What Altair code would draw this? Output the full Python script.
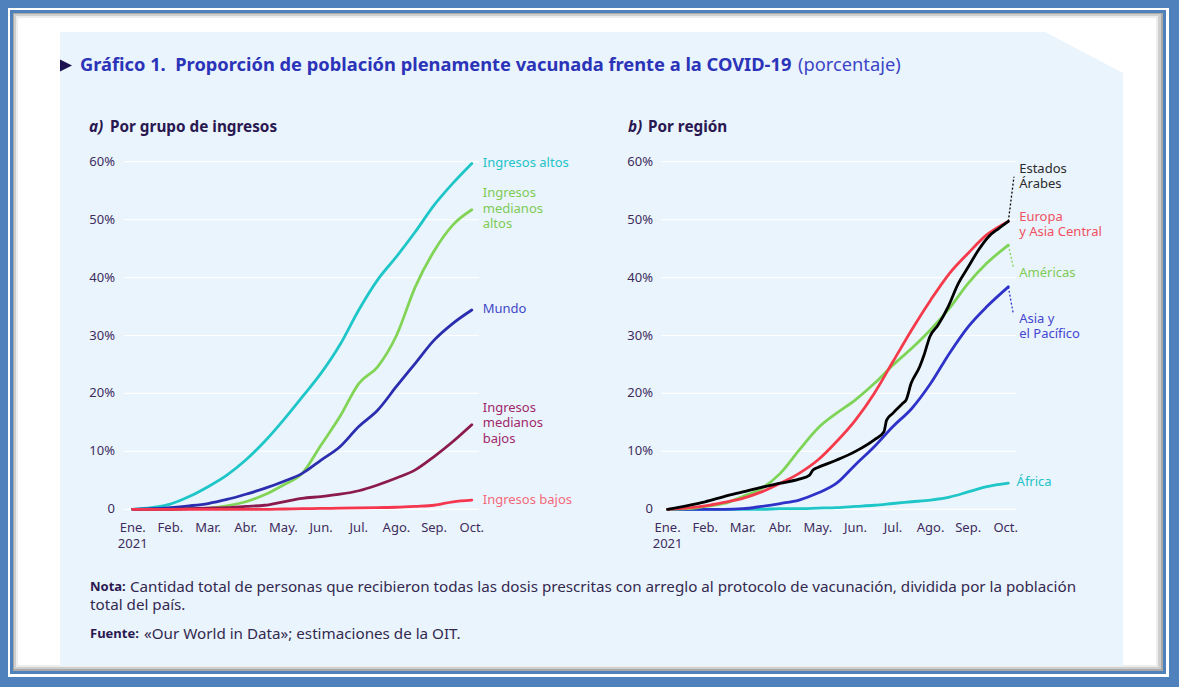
import altair as alt
import pandas as pd

W, H = 1179, 687
FONT = "Noto Sans"

# ---------------- data ----------------
months = [0, 0.5, 1, 1.5, 2, 2.5, 3, 3.5, 4, 4.5, 5, 5.5, 6, 6.5, 7, 7.5, 8, 8.5, 9]
months_b = [0, 0.5, 1, 1.5, 2, 2.5, 3, 3.5, 4, 4.5, 5, 5.5, 6, 6.5, 7, 7.5, 8, 8.5, 9.07]

# a) Por grupo de ingresos (%)
ingresos_altos = [0, 0.3, 0.9, 2.2, 3.9, 5.9, 8.5, 11.7, 15.4, 19.4, 23.5, 28.4, 34.4, 39.6, 43.6, 47.9, 52.5, 56.3, 59.7]
ingresos_med_altos = [0, 0, 0.05, 0.1, 0.2, 0.6, 1.3, 2.5, 4.2, 6.2, 11.1, 16.0, 21.7, 24.6, 30.0, 38.4, 44.6, 49.1, 51.7]
mundo = [0, 0.1, 0.3, 0.6, 1.0, 1.7, 2.6, 3.6, 4.8, 6.2, 8.5, 10.8, 14.3, 17.1, 21.2, 25.2, 29.2, 32.1, 34.4]
ingresos_med_bajos = [0, 0, 0, 0.1, 0.2, 0.3, 0.5, 0.7, 1.3, 1.9, 2.2, 2.6, 3.2, 4.2, 5.4, 6.8, 9.1, 11.7, 14.6]
ingresos_bajos = [0, 0, 0, 0, 0, 0, 0, 0, 0.05, 0.1, 0.15, 0.2, 0.25, 0.3, 0.35, 0.5, 0.7, 1.3, 1.6]

# b) Por región (%)
europa = [0, 0.2, 0.6, 1.2, 1.9, 3.0, 4.5, 6.2, 8.5, 11.7, 15.4, 20.0, 25.5, 31.0, 36.1, 40.7, 44.2, 47.4, 49.7]
americas = [0, 0.1, 0.5, 1.0, 2.2, 3.6, 6.2, 10.2, 14.0, 16.6, 18.9, 21.7, 24.9, 27.8, 31.0, 34.7, 39.0, 42.5, 45.6]
asia_pacifico = [0, 0, 0, 0, 0.1, 0.5, 1.0, 1.6, 2.8, 4.5, 7.7, 10.8, 14.3, 17.4, 21.7, 26.9, 31.5, 35.0, 38.4]
africa = [0, 0, 0, 0, 0, 0, 0.1, 0.1, 0.2, 0.3, 0.5, 0.7, 1.0, 1.3, 1.6, 2.1, 3.0, 3.9, 4.5]
arabes_months = [0, 0.5, 1, 1.5, 2, 2.5, 3, 3.5, 3.78, 3.87, 4, 4.5, 5, 5.5, 5.76, 5.83, 6.0, 6.26, 6.35, 6.48,
                 6.71, 6.84, 6.98, 7.2, 7.47, 7.74, 8.01, 8.28, 8.55, 8.82, 9.07]
arabes = [0, 0.6, 1.3, 2.2, 3.0, 3.8, 4.5, 5.2, 5.9, 6.8, 7.2, 8.5, 10.0, 12.0, 13.4, 15.4, 16.6, 18.3, 18.9, 21.7,
          24.6, 26.9, 29.8, 31.8, 35.0, 39.0, 41.9, 44.8, 47.1, 48.5, 49.7]

month_labels = ["Ene.", "Feb.", "Mar.", "Abr.", "May.", "Jun.", "Jul.", "Ago.", "Sep.", "Oct."]
y_ticks = [0, 10, 20, 30, 40, 50, 60]
y_tick_labels = ["0", "10%", "20%", "30%", "40%", "50%", "60%"]

# ---------------- styles ----------------
TICK_COLOR = "#3D2C5C"
PANEL = "#EAF4FD"
FRAME_BLUE = "#4F81BD"

series_a = [
    ("Ingresos altos", months, ingresos_altos, "#1FC6C8"),
    ("Ingresos medianos altos", months, ingresos_med_altos, "#82D457"),
    ("Mundo", months, mundo, "#2A2DAE"),
    ("Ingresos medianos bajos", months, ingresos_med_bajos, "#8B1A4F"),
    ("Ingresos bajos", months, ingresos_bajos, "#F5364F"),
]
series_b = [
    ("África", months_b, africa, "#1FC6C8"),
    ("Asia y el Pacífico", months_b, asia_pacifico, "#2E32C8"),
    ("Américas", months_b, americas, "#7ED457"),
    ("Europa y Asia Central", months_b, europa, "#F53B4B"),
    ("Estados Árabes", arabes_months, arabes, "#000000"),
]

# end labels (month position, value position, text, colour)
labels_a = [
    (9.29, 59.83, "Ingresos altos", "#22C3C8"),
    (9.29, 54.65, "Ingresos", "#7DCB55"),
    (9.29, 51.89, "medianos", "#7DCB55"),
    (9.29, 49.25, "altos", "#7DCB55"),
    (9.29, 34.52, "Mundo", "#3F46C8"),
    (9.29, 17.54, "Ingresos", "#A1286A"),
    (9.29, 14.85, "medianos", "#A1286A"),
    (9.29, 12.19, "bajos", "#A1286A"),
    (9.29, 1.61, "Ingresos bajos", "#F56A7A"),
]
labels_b = [
    (9.36, 58.74, "Estados", "#2B2B2B"),
    (9.36, 56.10, "Árabes", "#2B2B2B"),
    (9.36, 50.41, "Europa", "#F0505F"),
    (9.36, 47.82, "y Asia Central", "#F0505F"),
    (9.36, 40.79, "Américas", "#7DCB55"),
    (9.36, 32.80, "Asia y", "#4347D0"),
    (9.36, 30.21, "el Pacífico", "#4347D0"),
    (9.29, 4.66, "África", "#22C3C8"),
]
leaders_b = [
    ("arabes", [9.07, 9.22], [49.7, 57.4], "#000000"),
    ("americas", [9.07, 9.2], [45.6, 41.9], "#7ED457"),
    ("asia", [9.07, 9.2], [38.4, 33.8], "#2E32C8"),
]

one = pd.DataFrame({"k": [0]})


def rect(x, x2, y, y2, color):
    return alt.Chart(one).mark_rect(color=color).encode(
        x=alt.value(x), x2=alt.value(x2), y=alt.value(y), y2=alt.value(y2))


def txt(x, y, s, size, color, weight="normal", style="normal", align="left"):
    return alt.Chart(one).mark_text(
        text=s, font=FONT, fontSize=size, color=color, fontWeight=weight,
        fontStyle=style, align=align, baseline="middle").encode(
        x=alt.value(x), y=alt.value(y))


def panel(series, labels, leaders, x_range, grid_x, tick_right):
    xs = alt.Scale(domain=[0, 9], range=x_range, nice=False, zero=False)
    ys = alt.Scale(domain=[0, 60], range=[509.3, 161.7], nice=False, zero=False)
    ticks = pd.DataFrame({"v": y_ticks, "lab": y_tick_labels})
    grid = alt.Chart(ticks).mark_rule(color="#FFFFFF", strokeWidth=1.2).encode(
        y=alt.Y("v:Q", scale=ys, axis=None),
        x=alt.value(grid_x[0]), x2=alt.value(grid_x[1]))
    ylab = alt.Chart(ticks).mark_text(
        align="right", baseline="middle", font=FONT, fontSize=13, color=TICK_COLOR).encode(
        y=alt.Y("v:Q", scale=ys, axis=None), x=alt.value(tick_right), text="lab:N")
    mdf = pd.DataFrame({"m": list(range(10)), "lab": month_labels})
    xlab = alt.Chart(mdf).mark_text(
        align="center", baseline="middle", font=FONT, fontSize=13, color=TICK_COLOR).encode(
        x=alt.X("m:Q", scale=xs, axis=None), y=alt.value(528), text="lab:N")
    year = alt.Chart(pd.DataFrame({"m": [0], "lab": ["2021"]})).mark_text(
        align="center", baseline="middle", font=FONT, fontSize=13, color=TICK_COLOR).encode(
        x=alt.X("m:Q", scale=xs, axis=None), y=alt.value(543.5), text="lab:N")
    layers = [grid, ylab, xlab, year]
    for name, mm, vals, col in series:
        df = pd.DataFrame({"m": mm, "v": vals})
        layers.append(alt.Chart(df).mark_line(
            color=col, strokeWidth=2.8, strokeCap="round", strokeJoin="round",
            interpolate="monotone").encode(
            x=alt.X("m:Q", scale=xs, axis=None), y=alt.Y("v:Q", scale=ys, axis=None)))
    for name, mm, vals, col in leaders:
        df = pd.DataFrame({"m": mm, "v": vals})
        layers.append(alt.Chart(df).mark_line(
            color=col, strokeWidth=1.3, strokeDash=[2, 2]).encode(
            x=alt.X("m:Q", scale=xs, axis=None), y=alt.Y("v:Q", scale=ys, axis=None)))
    ldf = pd.DataFrame(labels, columns=["m", "v", "t", "c"])
    layers.append(alt.Chart(ldf).mark_text(
        align="left", baseline="middle", font=FONT, fontSize=13).encode(
        x=alt.X("m:Q", scale=xs, axis=None), y=alt.Y("v:Q", scale=ys, axis=None),
        text="t:N", color=alt.Color("c:N", scale=None)))
    return alt.layer(*layers)


# frame and background panel
frame = [
    rect(8, 1169, 8, 677, "#FFFFFF"),
    rect(10, 1166, 10, 674, FRAME_BLUE),
    rect(13, 1163, 13, 671, "#A8A8A8"),
    rect(14, 1161, 14, 669, "#CFCFCF"),
    rect(16, 1158, 16, 667, "#EDEDED"),
    rect(18, 1156, 18, 665, "#FFFFFF"),
    rect(60, 1123, 32, 666, PANEL),
    alt.Chart(one).mark_point(
        shape="M -1 -0.526 L 1 -0.526 L 1 0.526 Z", size=6084, filled=True,
        color="#FFFFFF", opacity=1, strokeWidth=0).encode(x=alt.value(1084), y=alt.value(52.5)),
]

texts = [
    alt.Chart(one).mark_point(
        shape="M -1 -1 L 1 0 L -1 1 Z", size=144, filled=True, color="#1B1050",
        opacity=1, strokeWidth=0).encode(x=alt.value(66), y=alt.value(65.5)),
    txt(80, 66, "Gráfico 1.\u00a0 Proporción de población plenamente vacunada frente a la COVID-19",
        18.3, "#2B33B8", weight="bold"),
    txt(798, 66, "(porcentaje)", 18.3, "#3B45C6"),
    txt(89, 127, "a)", 15.3, "#2A1850", weight="bold", style="italic"),
    txt(110, 127, "Por grupo de ingresos", 15.3, "#2A1850", weight="bold"),
    txt(628, 127, "b)", 15.3, "#2A1850", weight="bold", style="italic"),
    txt(648, 127, "Por región", 15.3, "#2A1850", weight="bold"),
    txt(90, 587, "Nota:", 13, "#2A1850", weight="bold"),
    txt(130, 587, "Cantidad total de personas que recibieron todas las dosis prescritas con arreglo al "
        "protocolo de vacunación, dividida por la población", 15.2, "#33294F"),
    txt(90, 605, "total del país.", 15.2, "#33294F"),
    txt(90, 634, "Fuente:", 13, "#2A1850", weight="bold"),
    txt(144, 634, "«Our World in Data»; estimaciones de la OIT.", 15.2, "#33294F"),
]

pa = panel(series_a, labels_a, [], [132.7, 471.8], (124, 479), 115)
pb = panel(series_b, labels_b, leaders_b, [667.6, 1005.7], (661, 1016), 653)

chart = alt.layer(*frame, *texts, pa, pb).resolve_scale(
    x="independent", y="independent", color="independent"
).properties(
    width=W, height=H, autosize="none", padding=0, background=FRAME_BLUE
).configure_view(stroke=None)

chart.save("out.html", embed_options={"renderer": "svg", "actions": False})
